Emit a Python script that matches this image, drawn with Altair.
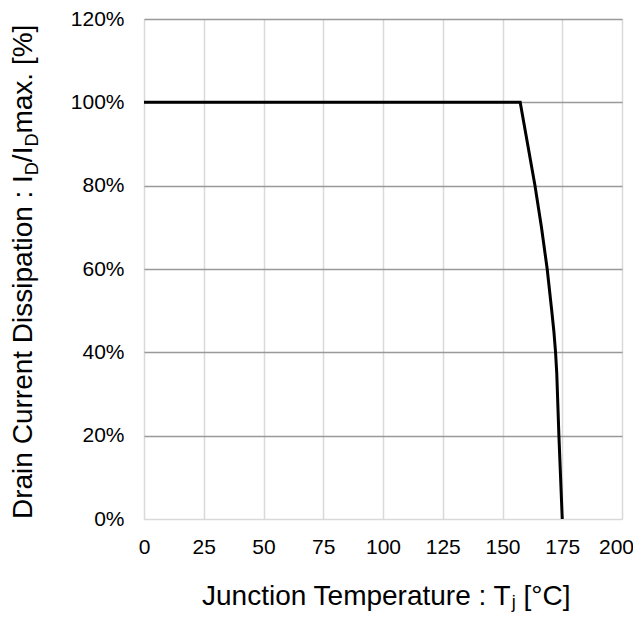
import altair as alt
import pandas as pd

temps = [0, 157.4, 160.5, 163.6, 166.3, 168.7, 170.6, 171.5, 172.2, 172.7, 173.0, 173.6, 174.3, 175]
current_pct = [100, 100, 90, 80, 70, 60, 50, 45, 40, 35, 30, 20, 10, 0]
x_ticks = [0, 25, 50, 75, 100, 125, 150, 175, 200]
y_ticks = [0, 20, 40, 60, 80, 100, 120]

FONT = "Liberation Sans"
FS = 28
FS_SUB = 18

df = pd.DataFrame({"T": temps, "I": current_pct, "order": list(range(len(temps)))})

base = alt.Chart(df)

line = base.mark_line(color="black", strokeWidth=3, strokeJoin="miter").encode(
    x=alt.X(
        "T:Q",
        scale=alt.Scale(domain=[0, 200], nice=False, zero=False),
        axis=alt.Axis(
            values=x_ticks,
            title=None,
            grid=True,
            gridColor="#d9d9d9",
            gridWidth=1.5,
            domain=False,
            ticks=False,
            tickSize=0,
            labelPadding=17,
            labelFont=FONT,
            labelFontSize=21,
            labelColor="#000000",
            labelBaseline="top",
            labelFlush=False,
            labelOffset={"condition": {"test": "datum.value === 200", "value": -6}, "value": 0},
        ),
    ),
    y=alt.Y(
        "I:Q",
        scale=alt.Scale(domain=[0, 120], nice=False),
        axis=alt.Axis(
            values=y_ticks,
            title=None,
            grid=True,
            gridColor={"condition": {"test": "datum.value === 0", "value": "#d9d9d9"}, "value": "#999999"},
            gridWidth=1.5,
            domain=False,
            ticks=False,
            tickSize=0,
            labelPadding=20,
            labelFont=FONT,
            labelFontSize=21,
            labelColor="#000000",
            labelExpr="datum.value + '%'",
            labelFlush=False,
        ),
    ),
    order="order:Q",
)


def txt(text, x, y, size, angle=0, align="left"):
    return alt.Chart(pd.DataFrame({"t": [text]})).mark_text(
        font=FONT, fontSize=size, color="black", align=align, baseline="alphabetic", angle=angle
    ).encode(text="t:N", x=alt.value(x), y=alt.value(y))


# X title pieces: "Junction Temperature : T" + sub "j" + " [°C]"
x0 = 58
w1 = 11171 * FS / 1000 - 3
w2 = 222 * FS_SUB / 1000
sp = 278 * FS / 1000
xb = 586
xt1 = txt("Junction Temperature : T", x0, xb, FS)
xt2 = txt("j", x0 + w1, xb + 3, FS_SUB)
xt3 = txt("[°C]", x0 + w1 + w2 + sp, xb, FS)

# Y title pieces (rotated): "Drain Current Dissipation : I" D "/I" D "max. [%]"
yx = -112
y0 = 500
p1 = 12281 * FS / 1000
p2 = 722 * FS_SUB / 1000
p3 = 556 * FS / 1000
yt1 = txt("Drain Current Dissipation : I", yx, y0, FS, angle=270)
yt2 = txt("D", yx + 6, y0 - p1, FS_SUB, angle=270)
yt3 = txt("/I", yx, y0 - p1 - p2, FS, angle=270)
yt4 = txt("D", yx + 6, y0 - p1 - p2 - p3, FS_SUB, angle=270)
yt5 = txt("max. [%]", yx, y0 - p1 - 2 * p2 - p3, FS, angle=270)

chart = (
    alt.layer(line, xt1, xt2, xt3, yt1, yt2, yt3, yt4, yt5)
    .properties(
        width=478,
        height=500,
        autosize=alt.AutoSizeParams(type="none"),
        padding={"left": 136, "top": 11, "right": 11, "bottom": 93},
    )
    .configure_view(strokeWidth=0)
    .configure(background="white")
)

chart.save("out.html", embed_options={"renderer": "svg", "actions": False})
